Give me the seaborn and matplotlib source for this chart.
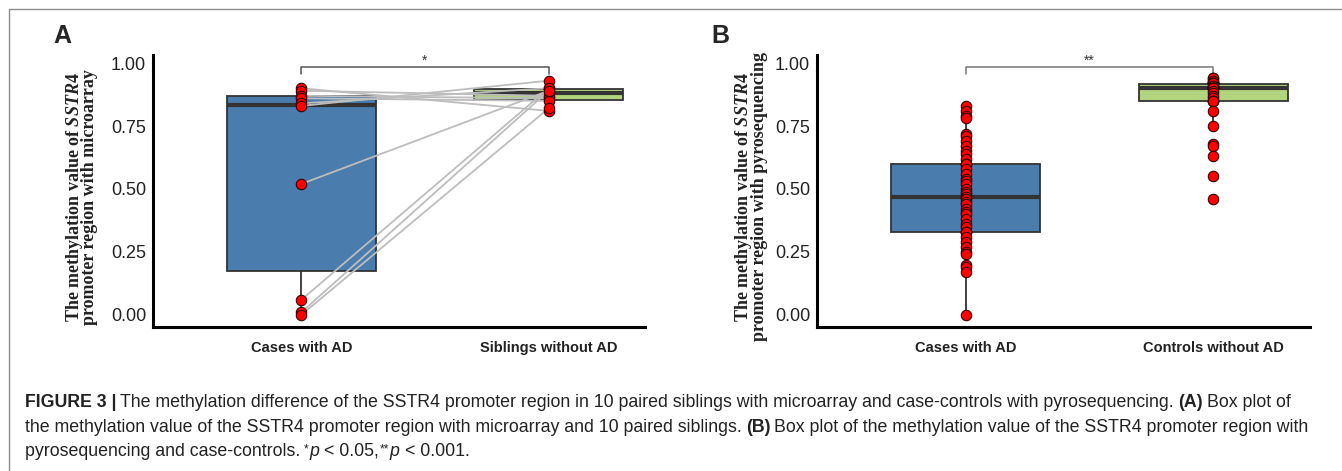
import matplotlib
matplotlib.use('Agg')
import matplotlib.pyplot as plt
from matplotlib.lines import Line2D
import seaborn as sns
import pandas as pd

# panel A: 10 paired siblings, microarray
a_groups = ['Cases with AD', 'Siblings without AD']
a_cases = [0.90, 0.89, 0.87, 0.86, 0.84, 0.83, 0.52, 0.06, 0.01, 0.00]
a_siblings = [0.81, 0.87, 0.86, 0.85, 0.90, 0.93, 0.89, 0.90, 0.89, 0.82]

# panel B: case-controls, pyrosequencing
b_groups = ['Cases with AD', 'Controls without AD']
b_cases = [0.83, 0.81, 0.79, 0.78, 0.72, 0.71, 0.69, 0.67, 0.65, 0.64, 0.62, 0.60,
           0.60, 0.60, 0.58, 0.56, 0.54, 0.53, 0.52, 0.50, 0.49, 0.48, 0.47, 0.47,
           0.46, 0.45, 0.44, 0.42, 0.41, 0.40, 0.38, 0.36, 0.35, 0.33, 0.33, 0.33,
           0.31, 0.29, 0.27, 0.25, 0.24, 0.20, 0.19, 0.17, 0.00]
b_controls = [0.94, 0.94, 0.93, 0.93, 0.92, 0.92, 0.92, 0.92, 0.91, 0.91, 0.90, 0.90,
              0.90, 0.90, 0.90, 0.90, 0.89, 0.88, 0.87, 0.86, 0.85, 0.85, 0.85, 0.81,
              0.75, 0.68, 0.67, 0.63, 0.55, 0.46]

box_colors = ['#4A7DAD', '#B2D47E']
y_ticks = [0.0, 0.25, 0.5, 0.75, 1.0]
y_ticklabels = ['0.00', '0.25', '0.50', '0.75', '1.00']

sns.set_style('white')
plt.rcParams['font.family'] = ['Liberation Sans', 'DejaVu Sans']
plt.rcParams['mathtext.fontset'] = 'custom'
plt.rcParams['mathtext.rm'] = 'Liberation Serif:bold'
plt.rcParams['mathtext.it'] = 'Liberation Serif:italic:bold'

W, H = 1342, 471
fig = plt.figure(figsize=(W / 100, H / 100), dpi=100)
ax_a = fig.add_axes([153 / W, 1 - 327 / H, 492 / W, 272 / H])
ax_b = fig.add_axes([817 / W, 1 - 327 / H, 493 / W, 272 / H])


def draw_panel(ax, groups, first, second, paired, ylabel, label_x, star, bracket_color):
    df = pd.DataFrame({'group': [groups[0]] * len(first) + [groups[1]] * len(second),
                       'value': first + second})
    sns.boxplot(data=df, x='group', y='value', hue='group', palette=box_colors,
                saturation=1, width=0.6, showfliers=False, showcaps=False,
                linewidth=1.3, linecolor='#333333',
                medianprops={'linewidth': 3, 'color': '#333333'},
                legend=False, ax=ax)
    if paired:
        for c, s in zip(first, second):
            ax.plot([0, 1], [c, s], color='#BDBDBD', lw=1.3, zorder=3)
    sns.stripplot(data=df, x='group', y='value', jitter=False, color='#FF0000',
                  edgecolor='#3A0000', linewidth=0.8, size=7.5, zorder=4, ax=ax)

    # significance bracket
    ax.plot([0, 0, 1, 1], [0.955, 0.984, 0.984, 0.955], color=bracket_color, lw=1.1,
            clip_on=False, zorder=2)
    ax.text(0.5, 0.995, star, ha='center', va='baseline', fontsize=10, color='#333333')

    ax.set_xlim(-0.6, 1.39)
    ax.set_ylim(-0.048, 1.032)
    ax.set_yticks(y_ticks)
    ax.set_yticklabels(y_ticklabels, fontsize=13, color='#222222')
    for t in ax.get_xticklabels():
        t.set_fontweight('bold')
        t.set_fontsize(10.5)
        t.set_color('#222222')
    ax.set_xlabel('')
    ax.set_ylabel(ylabel, fontfamily='Liberation Serif', fontweight='bold', fontsize=13,
                  linespacing=0.72, color='#222222')
    ax.yaxis.set_label_coords(label_x, 0.478)

    sns.despine(ax=ax)
    for side in ['left', 'bottom']:
        ax.spines[side].set_linewidth(2.2)
        ax.spines[side].set_color('black')
    ax.tick_params(axis='x', length=3, width=0.8, color='#666666', pad=7)
    ax.tick_params(axis='y', length=3.5, width=1, color='#333333', pad=1.5)


draw_panel(ax_a, a_groups, a_cases, a_siblings, True,
           r'The methylation value of $\mathit{SSTR4}$' + '\npromoter region with microarray',
           -0.111, '*', '#555555')
draw_panel(ax_b, b_groups, b_cases, b_controls, False,
           r'The methylation value of $\mathit{SSTR4}$' + '\npromoter region with pyrosequencing',
           -0.100, '**', '#777777')

fig.text(62 / W, 1 - 36 / H, 'A', fontsize=18, fontweight='bold', ha='center', va='center')
fig.text(720 / W, 1 - 36 / H, 'B', fontsize=18, fontweight='bold', ha='center', va='center')

# frame lines
fig.add_artist(Line2D([9 / W, 1], [1 - 9 / H, 1 - 9 / H], color='#8C8C8C', lw=1))
fig.add_artist(Line2D([9 / W, 9 / W], [0, 1 - 9 / H], color='#8C8C8C', lw=1))

# caption
cap_size = 12.8
renderer = fig.canvas.get_renderer()


def caption_line(x, y, parts):
    for text, weight, style, raise_px, gap in parts:
        size = cap_size * 0.7 if raise_px else cap_size
        t = fig.text(x / W, 1 - (y - raise_px) / H, text, fontsize=size, fontweight=weight,
                     style=style, color='#222222', va='baseline', ha='left')
        x = t.get_window_extent(renderer).x1 + gap


sp = 4
caption_line(25, 407, [
    ('FIGURE 3 |', 'bold', 'normal', 0, sp),
    ('The methylation difference of the SSTR4 promoter region in 10 paired siblings with '
     'microarray and case-controls with pyrosequencing.', 'normal', 'normal', 0, sp),
    ('(A)', 'bold', 'normal', 0, sp),
    ('Box plot of', 'normal', 'normal', 0, 0),
])
caption_line(25, 432, [
    ('the methylation value of the SSTR4 promoter region with microarray and 10 paired '
     'siblings.', 'normal', 'normal', 0, sp),
    ('(B)', 'bold', 'normal', 0, sp),
    ('Box plot of the methylation value of the SSTR4 promoter region with', 'normal', 'normal', 0, 0),
])
caption_line(25, 456, [
    ('pyrosequencing and case-controls.', 'normal', 'normal', 0, sp),
    ('*', 'normal', 'normal', 4, 0.5),
    ('p', 'normal', 'italic', 0, 5),
    ('< 0.05,', 'normal', 'normal', 0, 0.5),
    ('**', 'normal', 'normal', 4, 0.5),
    ('p', 'normal', 'italic', 0, 5),
    ('< 0.001.', 'normal', 'normal', 0, 0),
])

fig.savefig('out.png', dpi=100)
